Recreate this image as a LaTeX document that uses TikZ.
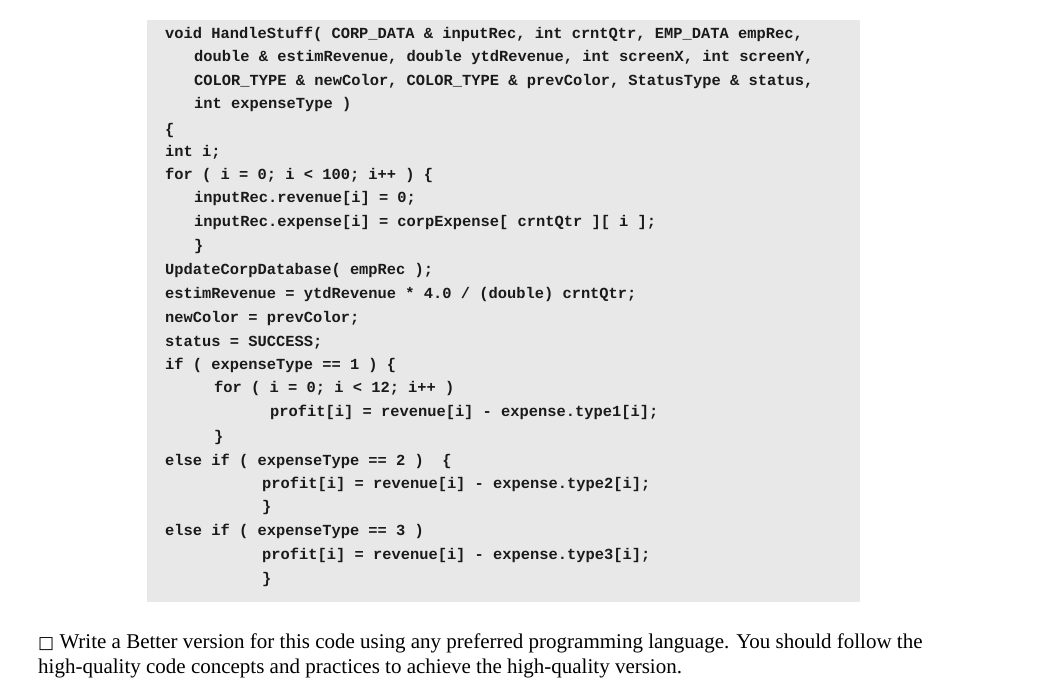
\documentclass[tikz,border=0pt]{standalone}
\usepackage{fontspec}
\setmainfont{Liberation Serif}
\setmonofont{Liberation Mono}
\newfontfamily\symfont{DejaVu Sans}
\definecolor{boxgray}{HTML}{E8E8E8}
\definecolor{codeink}{HTML}{1A1A1A}
\begin{document}
\begin{tikzpicture}[x=1pt,y=-1pt,
  code/.style={anchor=base west,inner sep=0pt,font=\fontsize{15.4}{18}\ttfamily\bfseries,text=codeink},
  prose/.style={anchor=base west,inner sep=0pt,font=\fontsize{21}{24}\selectfont}]
\useasboundingbox (0,0) rectangle (1045,691);
\fill[boxgray] (147,20) rectangle (860,602);
\node[code] (l1) at (165,38) {void HandleStuff( CORP\_DATA \& inputRec, int crntQtr, EMP\_DATA empRec,};
\node[code] (l2) at (194,61) {double \& estimRevenue, double ytdRevenue, int screenX, int screenY,};
\node[code] (l3) at (194,85) {COLOR\_TYPE \& newColor, COLOR\_TYPE \& prevColor, StatusType \& status,};
\node[code] (l4) at (194,108) {int expenseType )};
\node[code] (l5) at (165,134) {\{};
\node[code] (l6) at (165,156) {int i;};
\node[code] (l7) at (165,179) {for ( i = 0; i < 100; i++ ) \{};
\node[code] (l8) at (194,202) {inputRec.revenue[i] = 0;};
\node[code] (l9) at (194,226) {inputRec.expense[i] = corpExpense[ crntQtr ][ i ];};
\node[code] (l10) at (194,250) {\}};
\node[code] (l11) at (165,274) {UpdateCorpDatabase( empRec );};
\node[code] (l12) at (165,298) {estimRevenue = ytdRevenue * 4.0 / (double) crntQtr;};
\node[code] (l13) at (165,322) {newColor = prevColor;};
\node[code] (l14) at (165,346) {status = SUCCESS;};
\node[code] (l15) at (165,369) {if ( expenseType == 1 ) \{};
\node[code] (l16) at (214,392) {for ( i = 0; i < 12; i++ )};
\node[code] (l17) at (270,416) {profit[i] = revenue[i] - expense.type1[i];};
\node[code] (l18) at (214,441) {\}};
\node[code] (l19) at (165,465) {else if ( expenseType == 2 )\ \ \{};
\node[code] (l20) at (262,488) {profit[i] = revenue[i] - expense.type2[i];};
\node[code] (l21) at (262,511) {\}};
\node[code] (l22) at (165,535) {else if ( expenseType == 3 )};
\node[code] (l23) at (262,559) {profit[i] = revenue[i] - expense.type3[i];};
\node[code] (l24) at (262,583) {\}};
\node[prose] (p1) at (38,648) {{\symfont\fontsize{17}{20}\selectfont □} Write a Better version for this code using any preferred programming language. You should follow the};
\node[prose] (p2) at (38,673) {high-quality code concepts and practices to achieve the high-quality version.};
\end{tikzpicture}
\end{document}
